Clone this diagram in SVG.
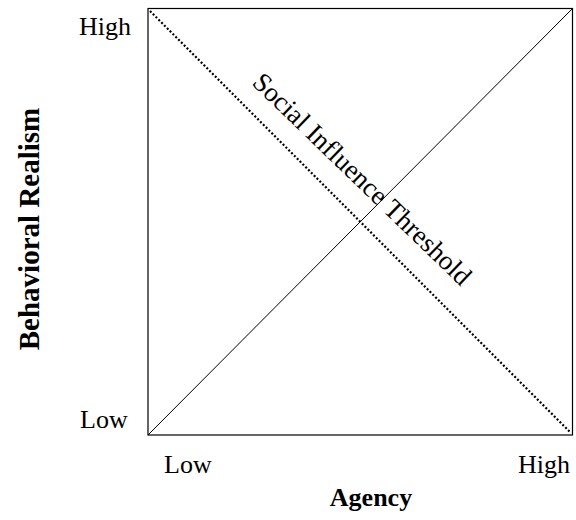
<svg xmlns="http://www.w3.org/2000/svg" width="576" height="520" viewBox="0 0 576 520">
<style>
.lbl{font-family:"Liberation Serif","Times New Roman",serif;font-size:26px;fill:#000}
.b{font-weight:bold}
.ln{stroke:#000;fill:none}
</style>
<rect width="576" height="520" fill="#fff"/>
<g id="connectors">
<rect id="frame" class="ln" x="148" y="8.5" width="424.5" height="426.5" stroke-width="1.2"/>
<line id="agency-line" class="ln" x1="148" y1="435" x2="572.5" y2="8.5" stroke-width="1"/>
<line id="threshold" class="ln" x1="150" y1="11" x2="571" y2="433" stroke-width="2.2" stroke-dasharray="2 2"/>
</g>
<g id="threshold-label">
<text class="lbl" transform="translate(251,84) rotate(44)" style="font-size:27px">Social Influence Threshold</text>
</g>
<g id="y-axis">
<text class="lbl" x="79" y="35">High</text>
<text class="lbl" x="80" y="428">Low</text>
<text class="lbl b" transform="translate(39,229) rotate(-90)" text-anchor="middle" style="font-size:29px">Behavioral Realism</text>
</g>
<g id="x-axis">
<text class="lbl" x="164" y="473">Low</text>
<text class="lbl" x="518" y="473">High</text>
<text class="lbl b" x="371" y="506" text-anchor="middle">Agency</text>
</g>
</svg>
